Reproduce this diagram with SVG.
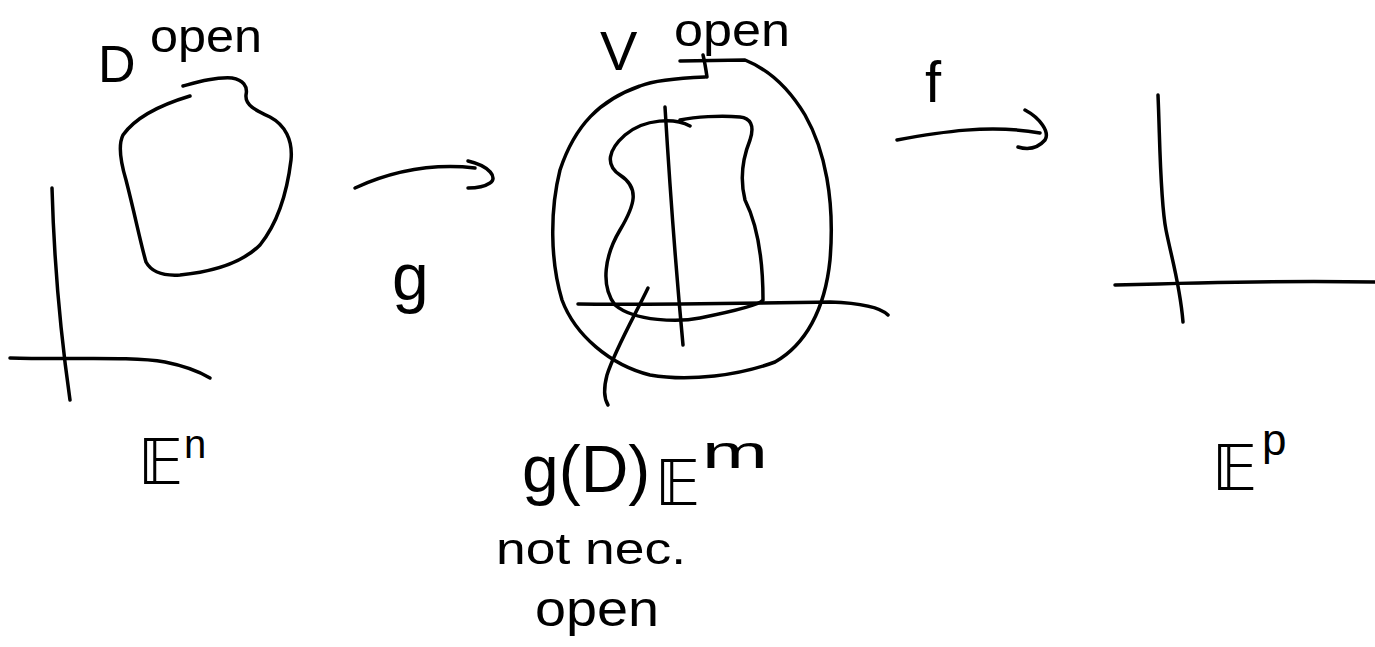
<svg xmlns="http://www.w3.org/2000/svg" width="1375" height="647" viewBox="0 0 1375 647">
<style>
.s{fill:none;stroke:#000;stroke-width:3.5;stroke-linecap:round;stroke-linejoin:round}
.t{font-family:"Liberation Sans","DejaVu Sans",sans-serif;fill:#000}
.bb{font-family:"DejaVu Sans","Liberation Sans",sans-serif;fill:#000}
</style>
<rect width="1375" height="647" fill="#fff"/>
<g id="domain-D">
<path class="s" d="M190,96 C160,105 135,118 123,135 C118,145 120,160 126,180 C135,215 141,245 146,262 C152,273 165,276 180,275 C210,272 240,265 260,245 C280,220 288,185 291,160 C293,140 285,125 270,117 C255,110 245,105 246,95 C248,86 243,80 232,78 C215,77 198,82 183,86"/>
</g>
<g id="axes-En">
<path class="s" d="M52,188 C54,260 60,330 70,400"/>
<path class="s" d="M10,358 C70,360 130,356 165,362 C185,366 200,372 210,378"/>
</g>
<g id="set-V">
<path class="s" d="M705,77 C680,78 655,80 640,86 C600,100 575,125 560,170 C550,210 550,260 562,300 C575,335 610,365 650,375 C690,382 740,375 775,362 C805,345 825,310 830,260 C835,200 825,150 805,115 C790,90 770,70 745,60 L680,61"/>
<path class="s" d="M703,55 C705,63 706,70 707,77"/>
</g>
<g id="set-gD">
<path class="s" d="M690,126 C675,118 645,118 625,135 C608,150 605,165 620,175 C640,188 635,205 620,230 C605,255 600,285 615,305 C635,322 680,322 700,318 C730,312 760,305 763,300 C763,270 760,230 745,200 C740,180 742,160 750,140 C755,125 750,118 740,117 C720,115 695,117 680,120"/>
<path class="s" d="M665,107 C670,190 676,270 683,345"/>
<path class="s" d="M578,304 C650,305 760,303 830,302 C860,303 880,307 888,315" stroke-width="2.5"/>
<path class="s" d="M648,288 C635,315 615,350 607,375 C603,390 605,400 608,405"/>
</g>
<g id="axes-Ep">
<path class="s" d="M1158,95 C1160,140 1160,200 1166,230 C1172,260 1180,285 1183,322"/>
<path class="s" d="M1115,285 C1180,283 1280,280 1375,282"/>
</g>
<g id="connectors">
<path class="s" d="M355,188 C390,172 430,163 475,168"/>
<path class="s" d="M468,161 C490,166 498,178 490,183 C484,187 475,188 468,188"/>
<path class="s" d="M897,140 C940,132 990,124 1040,133"/>
<path class="s" d="M1025,110 C1040,118 1050,132 1045,140 C1038,148 1028,150 1018,147"/>
</g>
<g id="labels">
<text class="t" x="98" y="82" font-size="52">D</text>
<text class="t" x="150" y="52" font-size="46" textLength="112" lengthAdjust="spacingAndGlyphs">open</text>
<text class="t" x="600" y="70" font-size="56">V</text>
<text class="t" x="674" y="46" font-size="46" textLength="116" lengthAdjust="spacingAndGlyphs">open</text>
<text class="t" x="392" y="300" font-size="66">g</text>
<text class="t" x="925" y="102" font-size="58">f</text>
<text class="bb" x="138" y="484" font-size="62">𝔼</text>
<text class="t" x="184" y="458" font-size="40">n</text>
<text class="t" x="522" y="492" font-size="66">g(D)</text>
<text class="bb" x="655" y="505" font-size="62">𝔼</text>
<text class="t" x="702" y="468" font-size="46" textLength="66" lengthAdjust="spacingAndGlyphs">m</text>
<text class="t" x="496" y="564" font-size="44" textLength="190" lengthAdjust="spacingAndGlyphs">not nec.</text>
<text class="t" x="535" y="626" font-size="50" textLength="124" lengthAdjust="spacingAndGlyphs">open</text>
<text class="bb" x="1212" y="490" font-size="62">𝔼</text>
<text class="t" x="1262" y="455" font-size="44">p</text>
</g>
</svg>
